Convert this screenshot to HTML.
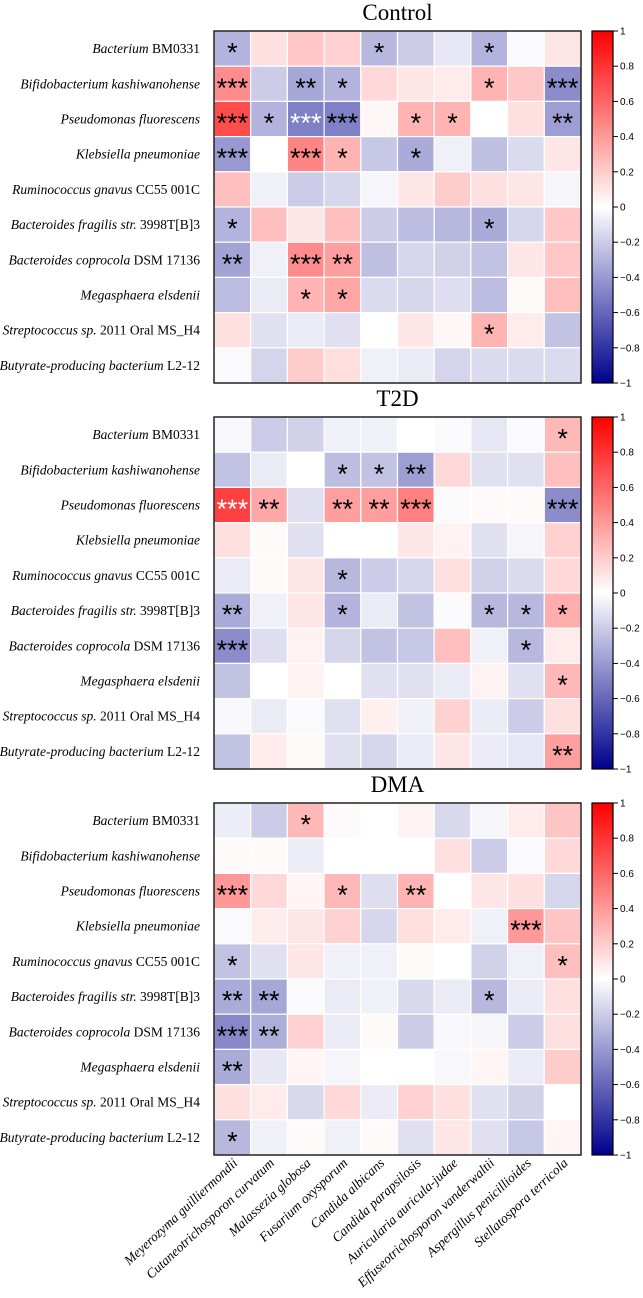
<!DOCTYPE html>
<html><head><meta charset="utf-8"><style>
body{margin:0;background:#fff;}
svg{display:block;}
</style></head><body>
<svg id="chart" width="643" height="1298" xmlns="http://www.w3.org/2000/svg"></svg>
<script>
const rowLabels=[["Bacterium"," BM0331"],["Bifidobacterium kashiwanohense",""],["Pseudomonas fluorescens",""],["Klebsiella pneumoniae",""],["Ruminococcus gnavus"," CC55 001C"],["Bacteroides fragilis str."," 3998T[B]3"],["Bacteroides coprocola"," DSM 17136"],["Megasphaera elsdenii",""],["Streptococcus sp."," 2011 Oral MS_H4"],["Butyrate-producing bacterium"," L2-12"]];
const colLabels=["Meyerozyma guilliermondii","Cutaneotrichosporon curvatum","Malassezia globosa","Fusarium oxysporum","Candida albicans","Candida parapsilosis","Auricularia auricula-judae","Effuseotrichosporon vanderwaltii","Aspergillus penicillioides","Stellatospora terricola"];
const panelTitles=["Control","T2D","DMA"];
const controlValues=[
[-0.3,0.12,0.22,0.18,-0.28,-0.2,-0.1,-0.3,-0.02,0.1],
[0.45,-0.2,-0.35,-0.3,0.15,0.1,0.08,0.3,0.22,-0.45],
[0.7,-0.3,-0.5,-0.5,0.03,0.3,0.3,0,0.12,-0.38],
[-0.4,0,0.48,0.3,-0.22,-0.33,-0.06,-0.25,-0.14,0.1],
[0.25,-0.06,-0.2,-0.16,-0.04,0.1,0.2,0.12,0.1,-0.04],
[-0.3,0.25,0.1,0.25,-0.2,-0.26,-0.28,-0.33,-0.16,0.22],
[-0.36,-0.06,0.45,0.38,-0.25,-0.16,-0.18,-0.24,0.1,0.22],
[-0.26,-0.08,0.3,0.35,-0.14,-0.16,-0.13,-0.26,0.02,0.25],
[0.12,-0.12,-0.08,-0.12,0,0.1,0.03,0.3,0.08,-0.24],
[-0.02,-0.17,0.2,0.13,-0.06,-0.08,-0.17,-0.14,-0.14,-0.14]];
const controlStars=[
["*","","","","*","","","*","",""],
["***","","**","*","","","","*","","***"],
["***","*","***","***","","*","*","","","**"],
["***","","***","*","","*","","","",""],
["","","","","","","","","",""],
["*","","","","","","","*","",""],
["**","","***","**","","","","","",""],
["","","*","*","","","","","",""],
["","","","","","","","*","",""],
["","","","","","","","","",""]];
const t2dValues=[
[-0.03,-0.2,-0.18,-0.06,-0.06,0,-0.02,-0.1,-0.02,0.28],
[-0.24,-0.08,0,-0.26,-0.24,-0.38,0.15,-0.12,-0.12,0.25],
[0.75,0.35,-0.12,0.38,0.38,0.5,-0.02,0.02,0.02,-0.45],
[0.12,0.02,-0.12,0,0,0.1,0.05,-0.12,-0.04,0.18],
[-0.08,0.02,0.1,-0.28,-0.2,-0.16,0.12,-0.18,-0.14,0.15],
[-0.33,-0.06,0.1,-0.3,-0.08,-0.24,-0.02,-0.28,-0.28,0.32],
[-0.45,-0.13,0.05,-0.17,-0.24,-0.22,0.25,-0.06,-0.28,0.08],
[-0.24,0,0.05,0,-0.12,-0.12,-0.08,0.05,-0.12,0.28],
[-0.03,-0.08,-0.02,-0.12,0.06,-0.06,0.18,-0.08,-0.2,0.12],
[-0.24,0.08,0.02,-0.12,-0.16,-0.08,0.1,-0.08,-0.1,0.38]];
const t2dStars=[
["","","","","","","","","","*"],
["","","","*","*","**","","","",""],
["***","**","","**","**","***","","","","***"],
["","","","","","","","","",""],
["","","","*","","","","","",""],
["**","","","*","","","","*","*","*"],
["***","","","","","","","","*",""],
["","","","","","","","","","*"],
["","","","","","","","","",""],
["","","","","","","","","","**"]];
const dmaValues=[
[-0.07,-0.2,0.28,0.02,0,0.05,-0.15,-0.04,0.08,0.23],
[0.02,0.02,-0.07,0,0,0,0.12,-0.2,-0.02,0.15],
[0.4,0.15,0.04,0.28,-0.13,0.3,0,0.1,0.12,-0.16],
[-0.02,0.07,0.1,0.18,-0.16,0.12,0.08,-0.06,0.4,0.23],
[-0.24,-0.12,0.1,-0.06,-0.06,0.02,0,-0.18,-0.06,0.25],
[-0.33,-0.35,-0.02,-0.08,-0.06,-0.15,-0.08,-0.28,-0.08,0.12],
[-0.47,-0.32,0.18,-0.08,0.02,-0.2,-0.03,-0.04,-0.2,0.12],
[-0.33,-0.09,0.04,-0.04,0,0,-0.03,0.04,-0.08,0.2],
[0.12,0.08,-0.15,0.15,-0.08,0.18,0.12,-0.12,-0.18,0],
[-0.28,-0.06,0.02,-0.06,0.02,-0.12,0.1,-0.12,-0.22,0.04]];
const dmaStars=[
["","","*","","","","","","",""],
["","","","","","","","","",""],
["***","","","*","","**","","","",""],
["","","","","","","","","***",""],
["*","","","","","","","","","*"],
["**","**","","","","","","*","",""],
["***","**","","","","","","","",""],
["**","","","","","","","","",""],
["","","","","","","","","",""],
["*","","","","","","","","",""]];
const whiteStarCells=[[0,2,2],[1,2,0]];
const colorbarTicks=[1,0.8,0.6,0.4,0.2,0,-0.2,-0.4,-0.6,-0.8,-1];

const NS="http://www.w3.org/2000/svg";
const svg=document.getElementById('chart');
function mk(tag,attrs,parent){const e=document.createElementNS(NS,tag);for(const k in attrs)e.setAttribute(k,attrs[k]);(parent||svg).appendChild(e);return e;}
function color(v){
  v=Math.max(-1,Math.min(1,v));
  if(v>=0){const g=Math.round(255*(1-v));return `rgb(255,${g},${g})`;}
  const t=-v;const r=Math.round(255*(1-t)),b=Math.round(255-(255-140)*t);return `rgb(${r},${r},${b})`;
}
const gx0=214,gw=367,cw=gw/10,rh=35.2;
const panelTops=[31,417,803];
const panels=[[controlValues,controlStars],[t2dValues,t2dStars],[dmaValues,dmaStars]];
const xScale=c=>gx0+c*cw;
const yScale=(p,r)=>panelTops[p]+r*rh;
const cbY=(p,v)=>panelTops[p]+(1-v)/2*(rh*10);

panels.forEach((pd,p)=>{
  const [vals,stars]=pd;
  const g=mk('g',{});
  
  
  const t=mk('text',{x:gx0+gw/2,y:panelTops[p]-11,'text-anchor':'middle','font-family':'Liberation Serif, serif','font-size':'23'},g);
  t.textContent=panelTitles[p];
  
  
  for(let r=0;r<10;r++){
    for(let c=0;c<10;c++){
      const rect=mk('rect',{x:xScale(c),y:yScale(p,r),width:cw,height:rh,fill:color(vals[r][c]),stroke:'#fff','stroke-width':'1.2'},g);
      
      
      if(stars[r][c]){
        const white=whiteStarCells.some(w=>w[0]===p&&w[1]===r&&w[2]===c);
        const st=mk('text',{x:xScale(c)+cw/2,y:yScale(p,r)+rh/2+13,'text-anchor':'middle','font-family':'Liberation Sans, sans-serif','font-size':'27',fill:white?'#fff':'#000'},g);
        st.textContent=stars[r][c];
        
        
      }
    }
    const lab=mk('text',{x:200,y:yScale(p,r)+rh/2+4.5,'text-anchor':'end','font-family':'Liberation Serif, serif','font-size':'13.5'},g);
    const s1=mk('tspan',{'font-style':'italic'},lab);s1.textContent=rowLabels[r][0];
    if(rowLabels[r][1]){const s2=mk('tspan',{},lab);s2.textContent=rowLabels[r][1];}
    
    
  }
  const bd=mk('rect',{x:gx0,y:panelTops[p],width:gw,height:rh*10,fill:'none',stroke:'#222','stroke-width':'1.5'},g);
  
  
  const cb=mk('g',{});
  
  
  const gid='cbg'+p;
  const defs=mk('defs',{},cb);
  const lg=mk('linearGradient',{id:gid,x1:0,y1:0,x2:0,y2:1},defs);
  [[0,1],[0.25,0.5],[0.5,0],[0.75,-0.5],[1,-1]].forEach(s=>mk('stop',{offset:s[0],'stop-color':color(s[1])},lg));
  mk('rect',{x:592,y:cbY(p,1),width:21,height:cbY(p,-1)-cbY(p,1),fill:`url(#${gid})`,stroke:'#000','stroke-width':'1.2'},cb);
  colorbarTicks.forEach(v=>{
    mk('line',{x1:613,x2:618,y1:cbY(p,v),y2:cbY(p,v),stroke:'#000','stroke-width':'1'},cb);
    const tl=mk('text',{x:620,y:cbY(p,v)+3.5,'font-family':'Liberation Sans, sans-serif','font-size':'10'},cb);
    tl.textContent=v<0?'\u2212'+(-v):String(v);
    
    
  });
});
colLabels.forEach((l,c)=>{
  const x=xScale(c)+cw/2+6,y=1164;
  const t=mk('text',{x:x,y:y,'text-anchor':'end','font-family':'Liberation Serif, serif','font-size':'13.5','font-style':'italic',transform:`rotate(-43 ${x} ${y})`});
  t.textContent=l;
  
  
});
</script>
</body></html>
